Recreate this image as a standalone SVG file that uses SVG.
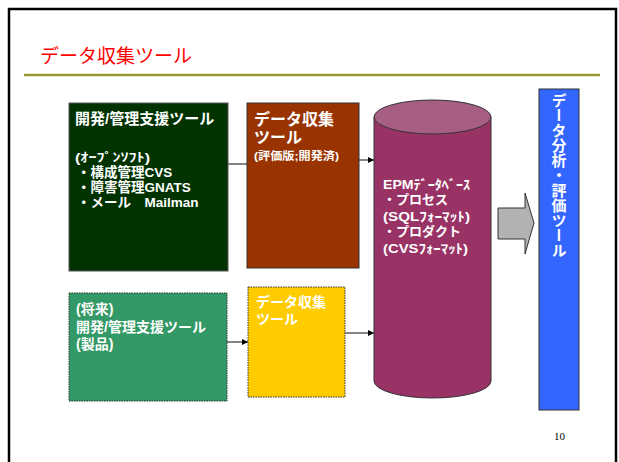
<svg xmlns="http://www.w3.org/2000/svg" width="619" height="462" viewBox="0 0 619 462">
<defs>
<style>
.jp{font-family:"Liberation Sans","Noto Sans CJK JP",sans-serif;font-weight:bold;fill:#ffffff}
.conn{stroke:#333333;stroke-width:1.2;fill:none}
</style>
<marker id="ah" viewBox="0 0 8 8" refX="8" refY="4" markerWidth="6" markerHeight="6" orient="auto" markerUnits="userSpaceOnUse">
<path d="M0,0 L8,4 L0,8 z" fill="#000000"/>
</marker>
</defs>
<rect x="0" y="0" width="619" height="462" fill="#ffffff"/>
<rect x="9" y="9" width="607" height="470" fill="none" stroke="#000000" stroke-width="2.5"/>
<text x="40" y="63" font-family="'Noto Sans CJK JP',sans-serif" font-size="19" fill="#ff0000">データ収集ツール</text>
<line x1="24" y1="75" x2="600" y2="75" stroke="#999933" stroke-width="2.5"/>

<g id="connectors">
<line class="conn" x1="228" y1="164" x2="247" y2="164"/>
<line class="conn" x1="359" y1="160" x2="374" y2="160" marker-end="url(#ah)"/>
<line class="conn" x1="227" y1="342" x2="248" y2="342" marker-end="url(#ah)"/>
<line class="conn" x1="345" y1="333" x2="374" y2="333" marker-end="url(#ah)"/>
<path d="M498,208 L525,208 L525,193 L534,223 L525,254 L525,239 L498,239 Z" fill="#b2b2b2" stroke="#333333" stroke-width="1"/>
</g>

<g id="dev-tools">
<rect x="69" y="103" width="159" height="168" fill="#003300" stroke="#555555" stroke-width="1"/>
<text class="jp" x="75" y="124" font-size="15">開発/管理支援ツール</text>
<text class="jp" x="75" y="162" font-size="12.5" textLength="75" lengthAdjust="spacingAndGlyphs">(ｵｰﾌﾟﾝｿﾌﾄ)</text>
<text class="jp" x="77" y="177" font-size="13.5">・構成管理CVS</text>
<text class="jp" x="77" y="192" font-size="13.5">・障害管理GNATS</text>
<text class="jp" x="77" y="207" font-size="13.5">・メール　Mailman</text>
</g>

<g id="collect-tool">
<rect x="247" y="103" width="112" height="165" fill="#993300" stroke="#333333" stroke-width="1"/>
<text class="jp" x="254" y="125" font-size="16">データ収集</text>
<text class="jp" x="254" y="143" font-size="16">ツール</text>
<text class="jp" x="254" y="160" font-size="11" textLength="85" lengthAdjust="spacingAndGlyphs">(評価版;開発済)</text>
</g>

<g id="future-tools">
<rect x="69" y="293" width="158" height="108" fill="#339966" stroke="#1a3a2a" stroke-width="1" stroke-dasharray="1.5,1"/>
<text class="jp" x="76" y="314" font-size="14">(将来)</text>
<text class="jp" x="76" y="332" font-size="14">開発/管理支援ツール</text>
<text class="jp" x="76" y="349" font-size="14">(製品)</text>
</g>

<g id="future-collect">
<rect x="248" y="287" width="97" height="110" fill="#ffcc00" stroke="#333333" stroke-width="1" stroke-dasharray="1.5,1"/>
<text class="jp" x="256" y="307" font-size="14">データ収集</text>
<text class="jp" x="256" y="324" font-size="14">ツール</text>
</g>

<g id="epm-db">
<path d="M374,117 L374,381 A58.5,17 0 0 0 491,381 L491,117" fill="#993366" stroke="#333333" stroke-width="1"/>
<ellipse cx="432.5" cy="117" rx="58.5" ry="17" fill="#a65e85" stroke="#333333" stroke-width="1"/>
<text class="jp" x="383" y="189" font-size="13" textLength="87" lengthAdjust="spacingAndGlyphs">EPMﾃﾞｰﾀﾍﾞｰｽ</text>
<text class="jp" x="383" y="204" font-size="13">・プロセス</text>
<text class="jp" x="383" y="221" font-size="13" textLength="87" lengthAdjust="spacingAndGlyphs">(SQLﾌｫｰﾏｯﾄ)</text>
<text class="jp" x="383" y="236" font-size="13">・プロダクト</text>
<text class="jp" x="383" y="253" font-size="13" textLength="85" lengthAdjust="spacingAndGlyphs">(CVSﾌｫｰﾏｯﾄ)</text>
</g>

<g id="analysis-tool">
<rect x="539" y="89" width="40" height="321" fill="#3366ff" stroke="#333333" stroke-width="1"/>
<text class="jp" x="558" y="93" font-size="15" style="writing-mode:vertical-rl;text-orientation:upright">データ分析・評価ツール</text>
</g>

<text x="554" y="440" font-family="'Liberation Serif',serif" font-size="11" fill="#000000">10</text>
</svg>
